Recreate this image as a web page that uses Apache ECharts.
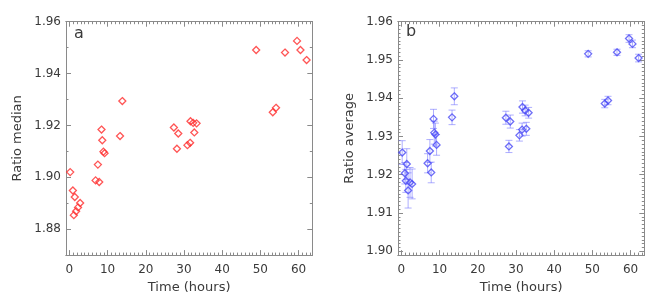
<!DOCTYPE html>
<html>
<head>
<meta charset="utf-8">
<script src="https://cdn.jsdelivr.net/npm/echarts@6/dist/echarts.min.js"></script>
<style>
html,body{margin:0;padding:0;background:#fff;}
#chart{width:664px;height:299px;}
</style>
</head>
<body>
<div id="chart"></div>
<script>
// Time of each measurement (hours)
const times = [0.2, 0.9, 1.15, 1.4, 1.75, 2.25, 2.8, 6.85, 7.45, 7.8, 8.4, 8.6, 8.9, 9.2,
  13.25, 13.85, 27.35, 28.15, 28.5, 30.9, 31.6, 31.7, 32.4, 32.7, 33.3,
  48.9, 53.25, 54.1, 56.45, 59.6, 60.5, 62.1];
// Panel a: ratio median
const medianRatio = [1.9020, 1.8949, 1.8854, 1.8924, 1.8869, 1.8884, 1.8901, 1.8988, 1.9049, 1.8982,
  1.9184, 1.9143, 1.9099, 1.9093, 1.9159, 1.9294, 1.9192, 1.9110, 1.9169, 1.9124,
  1.9133, 1.9216, 1.9210, 1.9173, 1.9208, 1.9491, 1.9251, 1.9268, 1.9481, 1.9526, 1.9491, 1.9452];
// Panel b: ratio average and its error
const averageRatio = [1.9258, 1.9204, 1.9184, 1.9228, 1.9159, 1.9180, 1.9176, 1.9230, 1.9262, 1.9206,
  1.9346, 1.9310, 1.9305, 1.9278, 1.9350, 1.9405, 1.9349, 1.9274, 1.9339, 1.9303,
  1.9318, 1.9377, 1.9368, 1.9320, 1.9362, 1.9516, 1.9386, 1.9394, 1.9520, 1.9556, 1.9542, 1.9505];
const averageErr = [0.0031, 0.0028, 0.0030, 0.0040, 0.0046, 0.0039, 0.0039, 0.0025, 0.0030, 0.0027,
  0.0025, 0.0030, 0.0030, 0.0027, 0.0019, 0.0022, 0.0017, 0.0016, 0.0017, 0.0015,
  0.0017, 0.0016, 0.0014, 0.0017, 0.0014, 0.0008, 0.0011, 0.0011, 0.0008, 0.0010, 0.0010, 0.0010];

// Tick labels
const xTickLabels = [0, 10, 20, 30, 40, 50, 60];
const yTickLabelsA = [1.88, 1.90, 1.92, 1.94, 1.96];
const yTickLabelsB = [1.90, 1.91, 1.92, 1.93, 1.94, 1.95, 1.96];

const xRange = [-0.9, 63.6];
const yRangeA = [1.87, 1.96];
const yRangeB = [1.899, 1.96];

function steps(a, b, s) {
  const out = [];
  const n = Math.round((b - a) / s);
  for (let i = 0; i <= n; i++) out.push(+(a + i * s).toFixed(6));
  return out;
}
const xMinor = steps(0, 63, 1);
const yMinorA = steps(1.87, 1.96, 0.01);
const yMinorB = steps(1.899, 1.96, 0.001);

const axisColor = '#8a8a8a';
const textColor = '#3a3a3a';
const font = 'DejaVu Sans';

function makeAxes(kind, grid, range, major, minor, digits) {
  const sides = kind === 'x' ? ['bottom', 'top'] : ['left', 'right'];
  const axes = [];
  sides.forEach((pos, si) => {
    [true, false].forEach(isMajor => {
      axes.push({
        type: 'value', gridIndex: grid, position: pos,
        min: range[0], max: range[1],
        axisLine: {show: true, onZero: false, lineStyle: {color: axisColor, width: 1}},
        axisTick: {show: true, inside: true, length: isMajor ? 5 : 2.5,
          customValues: isMajor ? major : minor,
          lineStyle: {color: axisColor, width: 1}},
        axisLabel: {show: si === 0 && isMajor, customValues: major,
          margin: kind === 'x' ? 9 : 5,
          color: textColor, fontFamily: font, fontSize: 12,
          formatter: v => Number(v).toFixed(digits)},
        splitLine: {show: false},
        z: 1
      });
    });
  });
  return axes;
}

const xAxes = [].concat(
  makeAxes('x', 0, xRange, xTickLabels, xMinor, 0),
  makeAxes('x', 1, xRange, xTickLabels, xMinor, 0)
);
const yAxes = [].concat(
  makeAxes('y', 0, yRangeA, yTickLabelsA, yMinorA, 2),
  makeAxes('y', 1, yRangeB, yTickLabelsB, yMinorB, 2)
);
// axis titles on main axes
xAxes[0].name = 'Time (hours)';
xAxes[4].name = 'Time (hours)';
yAxes[0].name = 'Ratio median';
yAxes[4].name = 'Ratio average';
[xAxes[0], xAxes[4]].forEach(a => {
  a.nameLocation = 'middle'; a.nameGap = 24;
  a.nameTextStyle = {color: textColor, fontFamily: font, fontSize: 13};
});
[yAxes[0], yAxes[4]].forEach(a => {
  a.nameLocation = 'middle'; a.nameGap = 42;
  a.nameTextStyle = {color: textColor, fontFamily: font, fontSize: 13};
});

const medianData = times.map((t, i) => [t, medianRatio[i]]);
const averageData = times.map((t, i) => [t, averageRatio[i]]);
const errData = times.map((t, i) => [t, averageRatio[i] - averageErr[i], averageRatio[i] + averageErr[i]]);

const errColor = 'rgba(110,110,255,0.55)';

const option = {
  animation: false,
  backgroundColor: '#fff',
  grid: [
    {left: 66, top: 21.7, right: 351.7, bottom: 42.3},
    {left: 398, top: 21.7, right: 19.7, bottom: 42.3}
  ],
  xAxis: xAxes,
  yAxis: yAxes,
  graphic: [
    {type: 'text', left: 74, top: 26, style: {text: 'a', fill: textColor, font: '16px DejaVu Sans'}},
    {type: 'text', left: 406, top: 24, style: {text: 'b', fill: textColor, font: '16px DejaVu Sans'}}
  ],
  series: [
    {
      type: 'scatter', xAxisIndex: 0, yAxisIndex: 0, data: medianData,
      symbol: 'diamond', symbolSize: 7,
      itemStyle: {color: 'rgba(0,0,0,0)', borderColor: '#ff2a2a', borderWidth: 1.3},
      z: 5
    },
    {
      type: 'custom', xAxisIndex: 4, yAxisIndex: 4, data: errData,
      renderItem: function (params, api) {
        const x = api.value(0);
        const lo = api.coord([x, api.value(1)]);
        const hi = api.coord([x, api.value(2)]);
        const w = 3.5;
        const st = {stroke: errColor, lineWidth: 1};
        return {
          type: 'group',
          children: [
            {type: 'line', shape: {x1: lo[0], y1: lo[1], x2: hi[0], y2: hi[1]}, style: st},
            {type: 'line', shape: {x1: lo[0] - w, y1: lo[1], x2: lo[0] + w, y2: lo[1]}, style: st},
            {type: 'line', shape: {x1: hi[0] - w, y1: hi[1], x2: hi[0] + w, y2: hi[1]}, style: st}
          ]
        };
      },
      z: 3
    },
    {
      type: 'scatter', xAxisIndex: 4, yAxisIndex: 4, data: averageData,
      symbol: 'diamond', symbolSize: 7,
      itemStyle: {color: 'rgba(0,0,0,0)', borderColor: '#4a4af5', borderWidth: 1.3},
      z: 5
    }
  ]
};

const chart = echarts.init(document.getElementById('chart'), null, {renderer: 'canvas'});
chart.setOption(option);
</script>
</body>
</html>
